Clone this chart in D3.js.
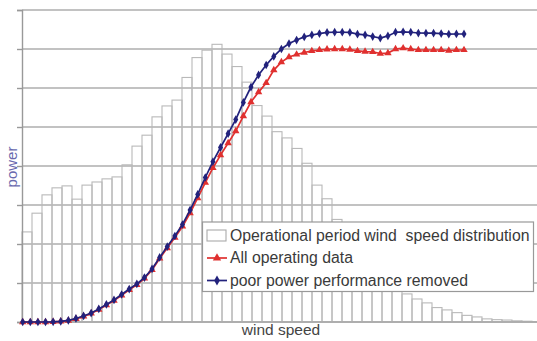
<!DOCTYPE html>
<html>
<head>
<meta charset="utf-8">
<script src="https://cdn.jsdelivr.net/npm/d3@7"></script>
<style>
  html, body { margin: 0; padding: 0; background: #fff; }
  svg { display: block; font-family: "Liberation Sans", Arial, sans-serif; }
</style>
</head>
<body>
<svg id="chart"></svg>
<script>
// wind speed histogram (counts per bin)
const binCounts = [
  231, 279, 326, 344, 349, 315, 351, 359, 367, 372,
  403, 451, 479, 526, 554, 569, 627, 678, 697, 712,
  687, 655, 615, 555, 528, 488, 472, 445, 407, 351,
  316, 263, 210, 172, 141, 118, 100, 85, 72, 59,
  49, 37, 31, 24, 17, 13, 8, 6, 5, 3, 2, 1
];

// power curve, all operating data (kW)
const powerAll = [
  0, 0, 0, 0, 1, 3, 7, 16, 29, 44,
  64, 87, 110, 137, 165, 191, 224, 267, 326, 379,
  433, 490, 559, 636, 715, 790, 856, 918, 979, 1056,
  1128, 1179, 1226, 1292, 1333, 1359, 1372, 1382, 1390, 1395,
  1398, 1400, 1400, 1397, 1390, 1387, 1385, 1377, 1379, 1400,
  1404, 1400, 1395, 1395, 1395, 1395, 1392, 1395, 1395
];

// power curve, poor power performance removed (kW)
const powerClean = [
  0, 0, 0, 0, 1, 3, 8, 18, 31, 46,
  67, 90, 113, 141, 169, 195, 228, 272, 331, 387,
  441, 500, 574, 654, 741, 822, 895, 966, 1038, 1126,
  1205, 1267, 1318, 1362, 1400, 1428, 1446, 1462, 1472, 1479,
  1485, 1486, 1486, 1485, 1476, 1472, 1464, 1456, 1467, 1486,
  1488, 1486, 1482, 1481, 1481, 1479, 1476, 1477, 1477
];

const countTicks = [0, 100, 200, 300, 400, 500, 600, 700, 800];
const legendLabels = [
  "Operational period wind  speed distribution",
  "All operating data",
  "poor power performance removed"
];
const axisTitles = { x: "wind speed", y: "power" };

const width = 537, height = 341;
const plotLeft = 22, plotBase = 322, plotTop = 10;

const svg = d3.select("#chart").attr("width", width).attr("height", height);

const yCount = d3.scaleLinear().domain([0, 800]).range([plotBase, plotTop]);
const yPower = d3.scaleLinear().domain([0, 1600]).range([plotBase, plotTop]);
const xBin = d3.scaleBand().domain(d3.range(binCounts.length)).range([plotLeft, plotLeft + 10 * binCounts.length]).padding(0);
const xPow = d3.scalePoint().domain(d3.range(powerAll.length)).range([22.7, 464]);

// gridlines
svg.append("g")
  .selectAll("line")
  .data(countTicks)
  .join("line")
  .attr("x1", plotLeft).attr("x2", width)
  .attr("y1", d => yCount(d)).attr("y2", d => yCount(d))
  .attr("stroke", "#aeaeae")
  .attr("stroke-width", 1.4);

// histogram bars (outline only)
svg.append("g")
  .selectAll("rect")
  .data(binCounts)
  .join("rect")
  .attr("x", (d, i) => xBin(i))
  .attr("y", d => yCount(d))
  .attr("width", xBin.bandwidth())
  .attr("height", d => plotBase - yCount(d))
  .attr("fill", "none")
  .attr("stroke", "#b9b9b9")
  .attr("stroke-width", 1.1);

// left axis
const yAxis = svg.append("g")
  .attr("transform", `translate(${plotLeft},0)`)
  .call(d3.axisLeft(yCount).tickValues(countTicks).tickSize(5).tickFormat(""));
yAxis.selectAll("path, line").attr("stroke", "#999").attr("stroke-width", 1.4);

// baseline
svg.append("line")
  .attr("x1", plotLeft).attr("x2", width)
  .attr("y1", plotBase).attr("y2", plotBase)
  .attr("stroke", "#aaa").attr("stroke-width", 1.4);

// power curves
const series = [
  { values: powerAll, color: "#e0302f", symbol: d3.symbolTriangle, size: 24 },
  { values: powerClean, color: "#22227c", symbol: d3.symbolDiamond, size: 22 }
];

const line = d3.line().x((d, i) => xPow(i)).y(d => yPower(d));

series.forEach(s => {
  svg.append("path")
    .datum(s.values)
    .attr("d", line)
    .attr("fill", "none")
    .attr("stroke", s.color)
    .attr("stroke-width", 1.7);
  svg.append("g")
    .selectAll("path")
    .data(s.values)
    .join("path")
    .attr("transform", (d, i) => `translate(${xPow(i)},${yPower(d)})`)
    .attr("d", d3.symbol().type(s.symbol).size(s.size))
    .attr("fill", s.color);
});

// legend
const lg = svg.append("g");
lg.append("rect")
  .attr("x", 202.5).attr("y", 222)
  .attr("width", 331).attr("height", 69.5)
  .attr("fill", "#fff")
  .attr("stroke", "#999")
  .attr("stroke-width", 1.2);

const rowY = [235.5, 258, 280.5];

lg.append("rect")
  .attr("x", 207).attr("y", rowY[0] - 5.5)
  .attr("width", 19).attr("height", 11)
  .attr("fill", "#fff").attr("stroke", "#aaa").attr("stroke-width", 1.1);

series.forEach((s, k) => {
  const y = rowY[k + 1];
  lg.append("line")
    .attr("x1", 207).attr("x2", 227).attr("y1", y).attr("y2", y)
    .attr("stroke", s.color).attr("stroke-width", 1.7);
  lg.append("path")
    .attr("transform", `translate(217,${y})`)
    .attr("d", d3.symbol().type(s.symbol).size(s.size + 6))
    .attr("fill", s.color);
});

lg.selectAll("text")
  .data(legendLabels)
  .join("text")
  .attr("x", 230)
  .attr("y", (d, i) => rowY[i] + 5)
  .attr("font-size", "15.8px")
  .attr("fill", "#3a3a3a")
  .attr("xml:space", "preserve")
  .style("white-space", "pre")
  .text(d => d);

// axis titles
svg.append("text")
  .attr("x", 281).attr("y", 335)
  .attr("text-anchor", "middle")
  .attr("font-size", "15.5px")
  .attr("fill", "#444")
  .text(axisTitles.x);

svg.append("text")
  .attr("transform", "translate(17,167) rotate(-90)")
  .attr("text-anchor", "middle")
  .attr("font-size", "15px")
  .attr("fill", "#6a6aae")
  .text(axisTitles.y);
</script>
</body>
</html>
